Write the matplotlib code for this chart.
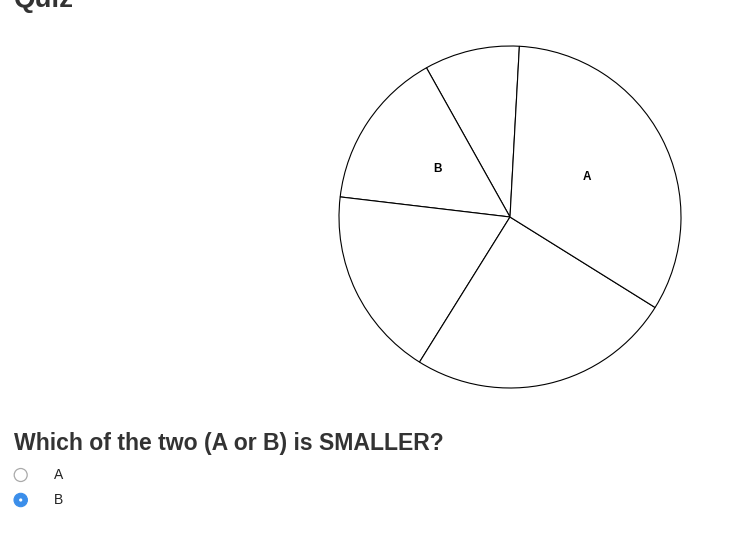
import matplotlib.pyplot as plt
from matplotlib.patches import Circle

# pie slices, counter-clockwise from the top
slice_values = [9, 15, 18, 25, 33]
slice_labels = ['', 'B', '', '', 'A']

title = 'Quiz'
question = 'Which of the two (A or B) is SMALLER?'
options = ['A', 'B']
selected = 'B'

W, H = 753, 549
fig = plt.figure(figsize=(W / 100, H / 100), dpi=100)
fig.patch.set_facecolor('white')

# page layer in pixel coordinates
ui = fig.add_axes([0, 0, 1, 1])
ui.set_xlim(0, W)
ui.set_ylim(H, 0)
ui.axis('off')

ui.text(14, 7, title, fontsize=20, fontweight='bold', color='#333333',
        family='Liberation Sans', va='baseline', ha='left')
ui.text(14, 450, question, fontsize=16.6, fontweight='bold', color='#333333',
        family='Liberation Sans', va='baseline', ha='left')

for i, opt in enumerate(options):
    y = 475 + i * 25
    if opt == selected:
        ui.add_patch(Circle((20.7, y), 6.7, facecolor='#3b8eea', edgecolor='#3b8eea', lw=0.8))
        ui.add_patch(Circle((20.7, y), 1.6, facecolor='white', edgecolor='none'))
    else:
        ui.add_patch(Circle((20.7, y), 6.5, facecolor='white', edgecolor='#aaaaaa', lw=0.9))
    ui.text(54, y, opt, fontsize=10, color='#222222', family='Liberation Sans',
            va='center', ha='left')

# pie chart: centre (510, 217), radius 171 px
cx, cy, r = 510, 217, 171
pad = 1.05
side = 2 * r * pad
ax = fig.add_axes([(cx - side / 2) / W, (H - cy - side / 2) / H, side / W, side / H])
wedges, texts = ax.pie(slice_values, labels=slice_labels, startangle=86.85,
                       counterclock=True, labeldistance=0.51,
                       colors=['white'] * len(slice_values),
                       wedgeprops=dict(edgecolor='black', linewidth=0.8),
                       textprops=dict(fontsize=8.5, fontweight='bold',
                                      family='Liberation Sans', ha='center', va='center'))
ax.set_xlim(-pad, pad)
ax.set_ylim(-pad, pad)
ax.set_aspect('equal')
ax.axis('off')

fig.savefig('out.png', dpi=100, facecolor='white')
